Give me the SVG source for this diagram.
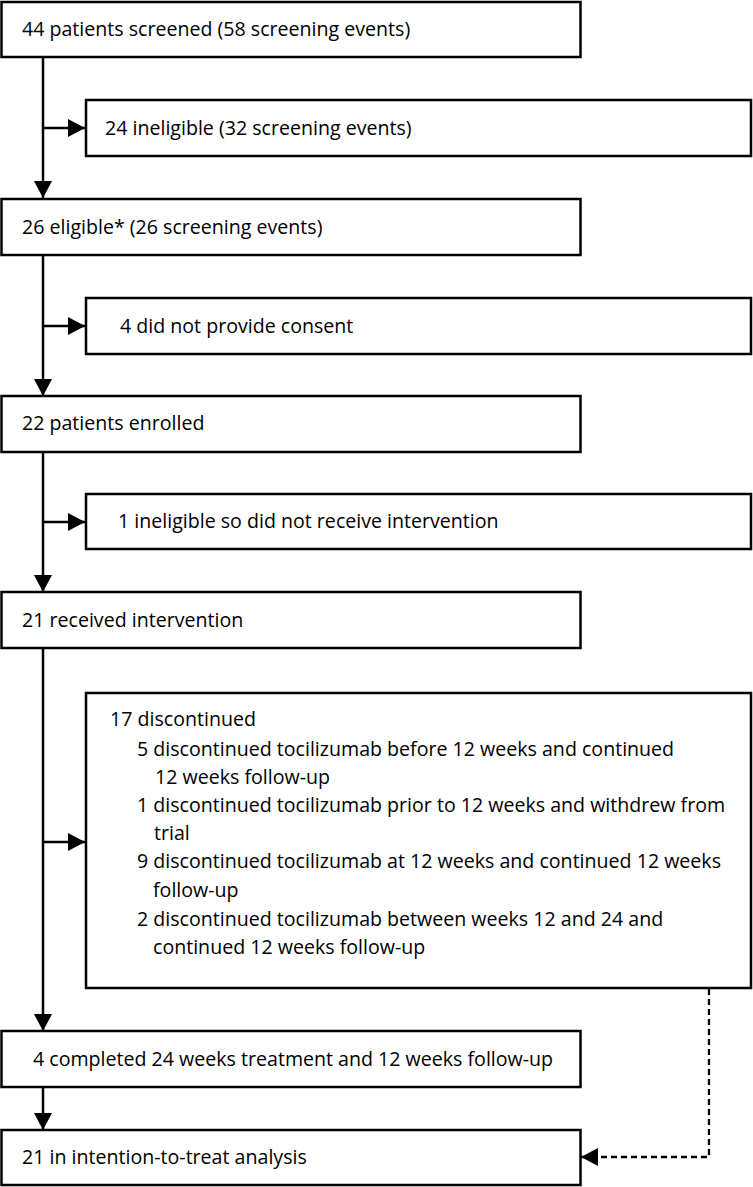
<svg xmlns="http://www.w3.org/2000/svg" width="753" height="1187" viewBox="0 0 753 1187">
<style>
  .box { fill: #fff; stroke: #000; stroke-width: 2.5; }
  .t { font-family: "Open Sans", "DejaVu Sans", sans-serif; font-size: 19.6px; fill: #000; }
  .ln { fill: none; stroke: #000; stroke-width: 2.5; }
  .dash { fill: none; stroke: #000; stroke-width: 2.3; stroke-dasharray: 6 4; }
</style>
<defs>
  <marker id="ah" markerUnits="userSpaceOnUse" markerWidth="18" markerHeight="18" refX="17" refY="9" orient="auto">
    <path d="M0,0 L17,9 L0,18 Z" fill="#000"/>
  </marker>
</defs>
<rect width="753" height="1187" fill="#fff"/>
<g id="connectors">
  <line class="ln" x1="43" y1="57" x2="43" y2="198" marker-end="url(#ah)"/>
  <line class="ln" x1="43" y1="128" x2="85" y2="128" marker-end="url(#ah)"/>
  <line class="ln" x1="43" y1="255" x2="43" y2="396" marker-end="url(#ah)"/>
  <line class="ln" x1="43" y1="326" x2="85" y2="326" marker-end="url(#ah)"/>
  <line class="ln" x1="43" y1="452" x2="43" y2="592" marker-end="url(#ah)"/>
  <line class="ln" x1="43" y1="522" x2="85" y2="522" marker-end="url(#ah)"/>
  <line class="ln" x1="43" y1="648" x2="43" y2="1031" marker-end="url(#ah)"/>
  <line class="ln" x1="43" y1="842" x2="85" y2="842" marker-end="url(#ah)"/>
  <line class="ln" x1="43" y1="1087" x2="43" y2="1130" marker-end="url(#ah)"/>
  <path class="dash" d="M709,989 V1157 H581" marker-end="url(#ah)"/>
</g>
<g id="n1"><rect class="box" x="1.5" y="2" width="579" height="55"/><text class="t" x="22" y="36">44 patients screened (58 screening events)</text></g>
<g id="n2"><rect class="box" x="86" y="100" width="665" height="56"/><text class="t" x="105" y="135">24 ineligible (32 screening events)</text></g>
<g id="n3"><rect class="box" x="1.5" y="199" width="579" height="56"/><text class="t" x="22" y="234">26 eligible* (26 screening events)</text></g>
<g id="n4"><rect class="box" x="86" y="298" width="665" height="56"/><text class="t" x="120" y="333">4 did not provide consent</text></g>
<g id="n5"><rect class="box" x="1.5" y="396" width="579" height="56"/><text class="t" x="22" y="430">22 patients enrolled</text></g>
<g id="n6"><rect class="box" x="86" y="494" width="665" height="55"/><text class="t" x="118" y="528">1 ineligible so did not receive intervention</text></g>
<g id="n7"><rect class="box" x="1.5" y="592" width="579" height="56"/><text class="t" x="22" y="627">21 received intervention</text></g>
<g id="n8"><rect class="box" x="86" y="693" width="665" height="295"/>
  <text class="t" x="110" y="726">17 discontinued</text>
  <text class="t" x="137" y="756">5 discontinued tocilizumab before 12 weeks and continued</text>
  <text class="t" x="155" y="784">12 weeks follow-up</text>
  <text class="t" x="137" y="812">1 discontinued tocilizumab prior to 12 weeks and withdrew from</text>
  <text class="t" x="154" y="840">trial</text>
  <text class="t" x="137" y="868">9 discontinued tocilizumab at 12 weeks and continued 12 weeks</text>
  <text class="t" x="153" y="897">follow-up</text>
  <text class="t" x="137" y="926">2 discontinued tocilizumab between weeks 12 and 24 and</text>
  <text class="t" x="153" y="954">continued 12 weeks follow-up</text>
</g>
<g id="n9"><rect class="box" x="1.5" y="1031" width="579" height="56"/><text class="t" x="33" y="1066">4 completed 24 weeks treatment and 12 weeks follow-up</text></g>
<g id="n10"><rect class="box" x="1.5" y="1130" width="579" height="55"/><text class="t" x="22" y="1164">21 in intention-to-treat analysis</text></g>
</svg>
